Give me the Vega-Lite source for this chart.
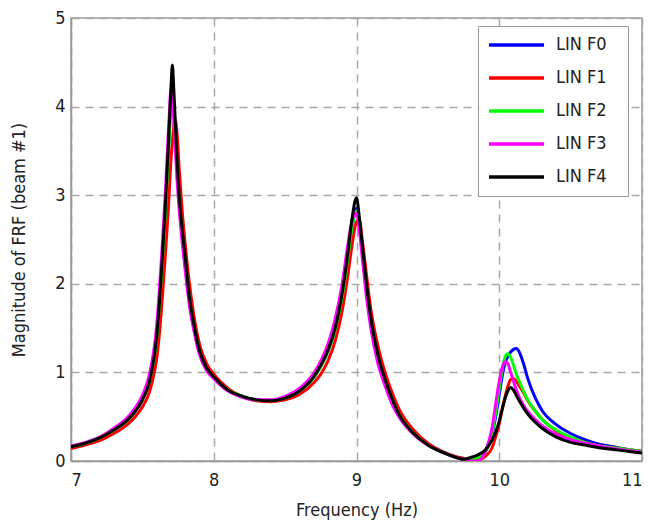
{
  "$schema": "https://vega.github.io/schema/vega-lite/v6.json",
  "width": 571,
  "height": 443,
  "autosize": {"type": "none"},
  "padding": {"left": 71, "top": 18, "right": 13, "bottom": 65},
  "background": "white",
  "config": {
    "font": "DejaVu Sans Condensed, Liberation Sans, sans-serif",
    "view": {"stroke": "#9a9a9a", "strokeWidth": 1.5},
    "axis": {
      "labelFont": "DejaVu Sans Condensed, Liberation Sans, sans-serif",
      "titleFont": "DejaVu Sans Condensed, Liberation Sans, sans-serif",
      "labelFontSize": 18,
      "titleFontSize": 18,
      "labelColor": "#222",
      "titleColor": "#222",
      "titleFontWeight": "normal",
      "domainColor": "#9a9a9a",
      "domainWidth": 1.5,
      "gridColor": "#a8a8a8",
      "gridWidth": 1.5,
      "gridDash": [8, 6],
      "gridOpacity": 1,
      "ticks": false
    }
  },
  "data": {
    "values": [
      {"f": 7.0, "LIN F0": 0.16, "LIN F1": 0.14, "LIN F2": 0.16, "LIN F3": 0.17, "LIN F4": 0.16},
      {"f": 7.1, "LIN F0": 0.2, "LIN F1": 0.18, "LIN F2": 0.2, "LIN F3": 0.21, "LIN F4": 0.2},
      {"f": 7.2, "LIN F0": 0.26, "LIN F1": 0.23, "LIN F2": 0.26, "LIN F3": 0.27, "LIN F4": 0.26},
      {"f": 7.3, "LIN F0": 0.35, "LIN F1": 0.31, "LIN F2": 0.35, "LIN F3": 0.37, "LIN F4": 0.35},
      {"f": 7.4, "LIN F0": 0.47, "LIN F1": 0.42, "LIN F2": 0.47, "LIN F3": 0.5, "LIN F4": 0.47},
      {"f": 7.45, "LIN F0": 0.56, "LIN F1": 0.5, "LIN F2": 0.56, "LIN F3": 0.6, "LIN F4": 0.56},
      {"f": 7.5, "LIN F0": 0.69, "LIN F1": 0.61, "LIN F2": 0.69, "LIN F3": 0.74, "LIN F4": 0.69},
      {"f": 7.55, "LIN F0": 0.9, "LIN F1": 0.78, "LIN F2": 0.9, "LIN F3": 0.98, "LIN F4": 0.9},
      {"f": 7.58, "LIN F0": 1.14, "LIN F1": 0.97, "LIN F2": 1.14, "LIN F3": 1.25, "LIN F4": 1.15},
      {"f": 7.6, "LIN F0": 1.38, "LIN F1": 1.15, "LIN F2": 1.38, "LIN F3": 1.52, "LIN F4": 1.4},
      {"f": 7.62, "LIN F0": 1.78, "LIN F1": 1.45, "LIN F2": 1.78, "LIN F3": 1.95, "LIN F4": 1.8},
      {"f": 7.64, "LIN F0": 2.25, "LIN F1": 1.85, "LIN F2": 2.25, "LIN F3": 2.45, "LIN F4": 2.3},
      {"f": 7.66, "LIN F0": 2.78, "LIN F1": 2.3, "LIN F2": 2.78, "LIN F3": 3.0, "LIN F4": 2.85},
      {"f": 7.68, "LIN F0": 3.4, "LIN F1": 2.8, "LIN F2": 3.4, "LIN F3": 3.65, "LIN F4": 3.5},
      {"f": 7.69, "LIN F0": 3.75, "LIN F1": 3.1, "LIN F2": 3.72, "LIN F3": 3.95, "LIN F4": 3.85},
      {"f": 7.7, "LIN F0": 4.05, "LIN F1": 3.4, "LIN F2": 4.0, "LIN F3": 4.2, "LIN F4": 4.2},
      {"f": 7.71, "LIN F0": 4.25, "LIN F1": 3.6, "LIN F2": 4.15, "LIN F3": 4.1, "LIN F4": 4.47},
      {"f": 7.72, "LIN F0": 4.05, "LIN F1": 3.78, "LIN F2": 4.0, "LIN F3": 3.85, "LIN F4": 4.2},
      {"f": 7.73, "LIN F0": 3.75, "LIN F1": 3.85, "LIN F2": 3.72, "LIN F3": 3.55, "LIN F4": 3.85},
      {"f": 7.74, "LIN F0": 3.45, "LIN F1": 3.75, "LIN F2": 3.42, "LIN F3": 3.25, "LIN F4": 3.5},
      {"f": 7.76, "LIN F0": 2.92, "LIN F1": 3.25, "LIN F2": 2.9, "LIN F3": 2.8, "LIN F4": 2.95},
      {"f": 7.78, "LIN F0": 2.58, "LIN F1": 2.8, "LIN F2": 2.56, "LIN F3": 2.45, "LIN F4": 2.6},
      {"f": 7.8, "LIN F0": 2.28, "LIN F1": 2.45, "LIN F2": 2.27, "LIN F3": 2.15, "LIN F4": 2.3},
      {"f": 7.83, "LIN F0": 1.84, "LIN F1": 2.0, "LIN F2": 1.83, "LIN F3": 1.75, "LIN F4": 1.85},
      {"f": 7.86, "LIN F0": 1.54, "LIN F1": 1.65, "LIN F2": 1.53, "LIN F3": 1.48, "LIN F4": 1.55},
      {"f": 7.9, "LIN F0": 1.24, "LIN F1": 1.32, "LIN F2": 1.24, "LIN F3": 1.2, "LIN F4": 1.25},
      {"f": 7.95, "LIN F0": 1.04, "LIN F1": 1.1, "LIN F2": 1.04, "LIN F3": 1.02, "LIN F4": 1.05},
      {"f": 8.0, "LIN F0": 0.94, "LIN F1": 0.98, "LIN F2": 0.94, "LIN F3": 0.93, "LIN F4": 0.95},
      {"f": 8.1, "LIN F0": 0.8, "LIN F1": 0.82, "LIN F2": 0.8, "LIN F3": 0.79, "LIN F4": 0.8},
      {"f": 8.2, "LIN F0": 0.73, "LIN F1": 0.73, "LIN F2": 0.73, "LIN F3": 0.72, "LIN F4": 0.73},
      {"f": 8.3, "LIN F0": 0.69, "LIN F1": 0.68, "LIN F2": 0.69, "LIN F3": 0.69, "LIN F4": 0.69},
      {"f": 8.4, "LIN F0": 0.68, "LIN F1": 0.67, "LIN F2": 0.68, "LIN F3": 0.69, "LIN F4": 0.68},
      {"f": 8.5, "LIN F0": 0.71, "LIN F1": 0.69, "LIN F2": 0.71, "LIN F3": 0.73, "LIN F4": 0.71},
      {"f": 8.6, "LIN F0": 0.79, "LIN F1": 0.75, "LIN F2": 0.79, "LIN F3": 0.82, "LIN F4": 0.79},
      {"f": 8.7, "LIN F0": 0.94, "LIN F1": 0.88, "LIN F2": 0.94, "LIN F3": 0.99, "LIN F4": 0.95},
      {"f": 8.75, "LIN F0": 1.07, "LIN F1": 0.98, "LIN F2": 1.07, "LIN F3": 1.13, "LIN F4": 1.08},
      {"f": 8.8, "LIN F0": 1.24, "LIN F1": 1.13, "LIN F2": 1.24, "LIN F3": 1.32, "LIN F4": 1.25},
      {"f": 8.85, "LIN F0": 1.48, "LIN F1": 1.35, "LIN F2": 1.48, "LIN F3": 1.6, "LIN F4": 1.5},
      {"f": 8.9, "LIN F0": 1.86, "LIN F1": 1.7, "LIN F2": 1.86, "LIN F3": 2.0, "LIN F4": 1.9},
      {"f": 8.94, "LIN F0": 2.3, "LIN F1": 2.1, "LIN F2": 2.3, "LIN F3": 2.45, "LIN F4": 2.35},
      {"f": 8.97, "LIN F0": 2.65, "LIN F1": 2.45, "LIN F2": 2.65, "LIN F3": 2.72, "LIN F4": 2.75},
      {"f": 9.0, "LIN F0": 2.85, "LIN F1": 2.7, "LIN F2": 2.82, "LIN F3": 2.8, "LIN F4": 2.97},
      {"f": 9.02, "LIN F0": 2.7, "LIN F1": 2.72, "LIN F2": 2.68, "LIN F3": 2.6, "LIN F4": 2.75},
      {"f": 9.04, "LIN F0": 2.42, "LIN F1": 2.5, "LIN F2": 2.4, "LIN F3": 2.3, "LIN F4": 2.45},
      {"f": 9.07, "LIN F0": 1.98, "LIN F1": 2.1, "LIN F2": 1.97, "LIN F3": 1.85, "LIN F4": 2.0},
      {"f": 9.1, "LIN F0": 1.6, "LIN F1": 1.72, "LIN F2": 1.6, "LIN F3": 1.5, "LIN F4": 1.62},
      {"f": 9.15, "LIN F0": 1.19, "LIN F1": 1.3, "LIN F2": 1.19, "LIN F3": 1.1, "LIN F4": 1.2},
      {"f": 9.2, "LIN F0": 0.91, "LIN F1": 1.0, "LIN F2": 0.91, "LIN F3": 0.85, "LIN F4": 0.92},
      {"f": 9.25, "LIN F0": 0.7, "LIN F1": 0.77, "LIN F2": 0.7, "LIN F3": 0.64, "LIN F4": 0.7},
      {"f": 9.3, "LIN F0": 0.52, "LIN F1": 0.58, "LIN F2": 0.52, "LIN F3": 0.49, "LIN F4": 0.52},
      {"f": 9.4, "LIN F0": 0.31, "LIN F1": 0.35, "LIN F2": 0.31, "LIN F3": 0.3, "LIN F4": 0.31},
      {"f": 9.5, "LIN F0": 0.18, "LIN F1": 0.2, "LIN F2": 0.18, "LIN F3": 0.18, "LIN F4": 0.18},
      {"f": 9.6, "LIN F0": 0.1, "LIN F1": 0.11, "LIN F2": 0.1, "LIN F3": 0.1, "LIN F4": 0.1},
      {"f": 9.7, "LIN F0": 0.04, "LIN F1": 0.05, "LIN F2": 0.04, "LIN F3": 0.04, "LIN F4": 0.04},
      {"f": 9.75, "LIN F0": 0.02, "LIN F1": 0.03, "LIN F2": 0.02, "LIN F3": 0.02, "LIN F4": 0.02},
      {"f": 9.8, "LIN F0": 0.02, "LIN F1": 0.01, "LIN F2": 0.02, "LIN F3": 0.0, "LIN F4": 0.04},
      {"f": 9.85, "LIN F0": 0.04, "LIN F1": 0.01, "LIN F2": 0.04, "LIN F3": 0.0, "LIN F4": 0.07},
      {"f": 9.9, "LIN F0": 0.1, "LIN F1": 0.05, "LIN F2": 0.1, "LIN F3": 0.1, "LIN F4": 0.12},
      {"f": 9.95, "LIN F0": 0.3, "LIN F1": 0.15, "LIN F2": 0.32, "LIN F3": 0.38, "LIN F4": 0.24},
      {"f": 9.98, "LIN F0": 0.55, "LIN F1": 0.3, "LIN F2": 0.6, "LIN F3": 0.7, "LIN F4": 0.35},
      {"f": 10.0, "LIN F0": 0.75, "LIN F1": 0.42, "LIN F2": 0.82, "LIN F3": 0.9, "LIN F4": 0.45},
      {"f": 10.02, "LIN F0": 0.95, "LIN F1": 0.58, "LIN F2": 1.02, "LIN F3": 1.05, "LIN F4": 0.58},
      {"f": 10.04, "LIN F0": 1.1, "LIN F1": 0.72, "LIN F2": 1.17, "LIN F3": 1.12, "LIN F4": 0.7},
      {"f": 10.06, "LIN F0": 1.18, "LIN F1": 0.84, "LIN F2": 1.21, "LIN F3": 1.1, "LIN F4": 0.79},
      {"f": 10.08, "LIN F0": 1.23, "LIN F1": 0.92, "LIN F2": 1.17, "LIN F3": 1.0, "LIN F4": 0.83},
      {"f": 10.1, "LIN F0": 1.26, "LIN F1": 0.93, "LIN F2": 1.08, "LIN F3": 0.9, "LIN F4": 0.8},
      {"f": 10.12, "LIN F0": 1.27, "LIN F1": 0.9, "LIN F2": 0.98, "LIN F3": 0.8, "LIN F4": 0.74},
      {"f": 10.14, "LIN F0": 1.23, "LIN F1": 0.85, "LIN F2": 0.9, "LIN F3": 0.72, "LIN F4": 0.68},
      {"f": 10.17, "LIN F0": 1.1, "LIN F1": 0.77, "LIN F2": 0.79, "LIN F3": 0.63, "LIN F4": 0.6},
      {"f": 10.2, "LIN F0": 0.93, "LIN F1": 0.68, "LIN F2": 0.69, "LIN F3": 0.56, "LIN F4": 0.53},
      {"f": 10.25, "LIN F0": 0.72, "LIN F1": 0.57, "LIN F2": 0.57, "LIN F3": 0.47, "LIN F4": 0.44},
      {"f": 10.3, "LIN F0": 0.57, "LIN F1": 0.47, "LIN F2": 0.47, "LIN F3": 0.4, "LIN F4": 0.37},
      {"f": 10.4, "LIN F0": 0.41, "LIN F1": 0.34, "LIN F2": 0.35, "LIN F3": 0.3, "LIN F4": 0.27},
      {"f": 10.5, "LIN F0": 0.31, "LIN F1": 0.26, "LIN F2": 0.27, "LIN F3": 0.24, "LIN F4": 0.21},
      {"f": 10.6, "LIN F0": 0.24, "LIN F1": 0.21, "LIN F2": 0.21, "LIN F3": 0.2, "LIN F4": 0.18},
      {"f": 10.7, "LIN F0": 0.19, "LIN F1": 0.17, "LIN F2": 0.17, "LIN F3": 0.17, "LIN F4": 0.15},
      {"f": 10.8, "LIN F0": 0.16, "LIN F1": 0.15, "LIN F2": 0.15, "LIN F3": 0.14, "LIN F4": 0.13},
      {"f": 10.9, "LIN F0": 0.13, "LIN F1": 0.13, "LIN F2": 0.13, "LIN F3": 0.12, "LIN F4": 0.11},
      {"f": 11.0, "LIN F0": 0.11, "LIN F1": 0.11, "LIN F2": 0.11, "LIN F3": 0.1, "LIN F4": 0.09}
    ]
  },
  "transform": [
    {"fold": ["LIN F0", "LIN F1", "LIN F2", "LIN F3", "LIN F4"], "as": ["series", "value"]}
  ],
  "mark": {"type": "line", "strokeWidth": 3, "interpolate": "monotone", "clip": true},
  "encoding": {
    "x": {
      "field": "f", "type": "quantitative",
      "scale": {"domain": [7, 11], "nice": false},
      "axis": {"title": "Frequency (Hz)", "values": [7, 8, 9, 10, 11], "labelPadding": 10, "titlePadding": 12, "format": "d"}
    },
    "y": {
      "field": "value", "type": "quantitative",
      "scale": {"domain": [0, 5], "nice": false},
      "axis": {"title": "Magnitude of FRF (beam #1)", "values": [0, 1, 2, 3, 4, 5], "labelPadding": 6, "titlePadding": 26, "format": "d"}
    },
    "color": {
      "field": "series", "type": "nominal",
      "scale": {"domain": ["LIN F0", "LIN F1", "LIN F2", "LIN F3", "LIN F4"], "range": ["#0000ff", "#ff0000", "#00ff00", "#ff00ff", "#000000"]},
      "legend": {
        "title": null,
        "orient": "none",
        "legendX": 407,
        "legendY": 8,
        "symbolType": "stroke",
        "symbolSize": 3025,
        "symbolStrokeWidth": 3.5,
        "clipHeight": 20,
        "labelFont": "DejaVu Sans Condensed, Liberation Sans, sans-serif",
        "labelFontSize": 18,
        "labelColor": "#222",
        "labelExpr": "datum.label + '\u2800'",
        "strokeColor": "#9a9a9a",
        "fillColor": "white",
        "padding": 9,
        "rowPadding": 13,
        "labelOffset": 10
      }
    }
  }
}
